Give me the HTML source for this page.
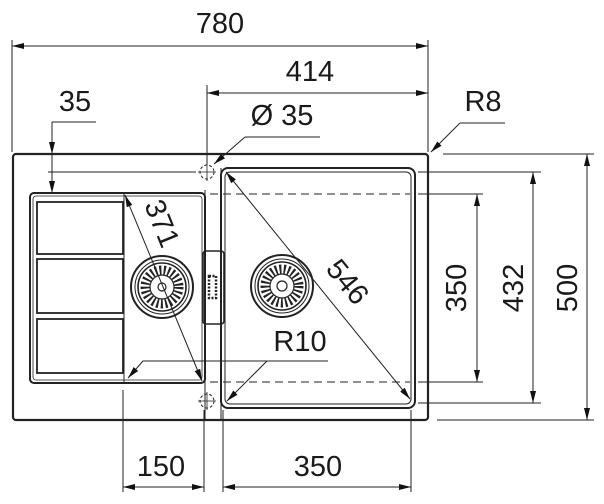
<!DOCTYPE html>
<html><head><meta charset="utf-8"><style>
html,body{margin:0;padding:0;background:#fff;width:604px;height:504px;overflow:hidden}
svg{display:block}
text{font-family:"Liberation Sans",Arial,sans-serif;font-size:29px;fill:#1a1a1a}
</style></head><body>
<svg width="604" height="504" viewBox="0 0 604 504">
<defs>
<marker id="a" viewBox="0 0 12 6" refX="12" refY="3" markerWidth="12" markerHeight="6" orient="auto-start-reverse" markerUnits="userSpaceOnUse"><path d="M0,0 L12,3 L0,6z" fill="#111"/></marker>
</defs>
<g stroke="#222" stroke-width="1" fill="none">
<line x1="12" y1="40" x2="12" y2="152"/>
<line x1="428" y1="40" x2="428" y2="152"/>
<line x1="207" y1="85" x2="207" y2="165"/>
<line x1="52" y1="122" x2="96" y2="122"/>
<line x1="245" y1="137" x2="320" y2="137"/>
<line x1="460" y1="123" x2="505" y2="123"/>
<line x1="443" y1="154" x2="594" y2="154"/>
<line x1="437" y1="420" x2="594" y2="420"/>
<line x1="418" y1="172" x2="541" y2="172"/>
<line x1="418" y1="403" x2="541" y2="403"/>
<line x1="418" y1="194" x2="483" y2="194"/>
<line x1="418" y1="382" x2="483" y2="382"/>
<line x1="123" y1="390" x2="123" y2="492"/>
<line x1="204" y1="410" x2="204" y2="492"/>
<line x1="223" y1="410" x2="223" y2="492"/>
<line x1="411" y1="410" x2="411" y2="492"/>
<line x1="48" y1="172" x2="196" y2="172"/>
<line x1="12" y1="46" x2="428" y2="46" marker-start="url(#a)" marker-end="url(#a)"/>
<line x1="207" y1="93" x2="428" y2="93" marker-start="url(#a)" marker-end="url(#a)"/>
<line x1="52" y1="122" x2="52" y2="154" marker-end="url(#a)"/>
<line x1="52" y1="154" x2="52" y2="193" marker-end="url(#a)"/>
<line x1="245" y1="137" x2="214" y2="164" marker-end="url(#a)"/>
<line x1="460" y1="123" x2="431" y2="152" marker-end="url(#a)"/>
<line x1="477" y1="194" x2="477" y2="382" marker-start="url(#a)" marker-end="url(#a)"/>
<line x1="533" y1="172" x2="533" y2="403" marker-start="url(#a)" marker-end="url(#a)"/>
<line x1="587" y1="154" x2="587" y2="420" marker-start="url(#a)" marker-end="url(#a)"/>
<line x1="123" y1="487" x2="204" y2="487" marker-start="url(#a)" marker-end="url(#a)"/>
<line x1="223" y1="487" x2="411" y2="487" marker-start="url(#a)" marker-end="url(#a)"/>
<line x1="226" y1="172" x2="410" y2="399" marker-start="url(#a)" marker-end="url(#a)"/>
<line x1="125" y1="195" x2="202" y2="381" marker-start="url(#a)" marker-end="url(#a)"/>
<polyline points="328,361 143,361 128,378" marker-end="url(#a)"/>
<line x1="267" y1="361" x2="227" y2="401" marker-end="url(#a)"/>
<line x1="210" y1="194" x2="410" y2="194" stroke-dasharray="8,5"/>
<line x1="210" y1="382" x2="410" y2="382" stroke-dasharray="8,5"/>
</g>
<g stroke="#222" fill="none">
<rect x="13" y="154" width="415" height="266" rx="3" stroke-width="2.2"/>
<rect x="30" y="193" width="175" height="190" rx="4" stroke-width="2"/>
<rect x="33" y="196" width="169" height="184" rx="3" stroke-width="0.8"/>
<line x1="124" y1="194" x2="124" y2="382" stroke-width="1"/>
<rect x="37" y="202" width="86" height="52" stroke-width="1.8"/>
<rect x="37" y="259" width="86" height="54" stroke-width="1.8"/>
<rect x="37" y="319" width="86" height="54" stroke-width="1.8"/>
<rect x="221" y="168" width="194" height="240" rx="7" stroke-width="2"/>
<rect x="225" y="172" width="186" height="232" rx="5" stroke-width="1"/>
<line x1="205" y1="190" x2="205" y2="420" stroke-width="1"/>
<line x1="221" y1="168" x2="221" y2="420" stroke-width="1"/>
<rect x="203" y="251" width="21" height="73" rx="3" stroke-width="1.6"/>
<rect x="209" y="276" width="7" height="22" stroke-width="2.5" stroke-dasharray="2,1.5"/>
<circle cx="207" cy="172" r="7" stroke-width="1" stroke-dasharray="3,2"/>
<line x1="198" y1="172" x2="216" y2="172" stroke-width="0.8"/>
<line x1="207" y1="163" x2="207" y2="181" stroke-width="0.8"/>
<circle cx="207" cy="401" r="7" stroke-width="1" stroke-dasharray="3,2"/>
<line x1="198" y1="401" x2="216" y2="401" stroke-width="0.8"/>
<line x1="207" y1="392" x2="207" y2="410" stroke-width="0.8"/>
<g transform="translate(162,287)">
<circle r="31" stroke-width="2"/><circle r="27" stroke-width="1"/><circle r="24" stroke-width="1.6"/>
<circle r="17" stroke-width="9" stroke-dasharray="2,2.3"/><circle r="12" stroke-width="1.2"/><circle r="4" stroke-width="1.2"/>
</g>
<g transform="translate(282,286)">
<circle r="31" stroke-width="2"/><circle r="27" stroke-width="1"/><circle r="24" stroke-width="1.6"/>
<circle r="17" stroke-width="9" stroke-dasharray="2,2.3"/><circle r="12" stroke-width="1.2"/><circle r="5" stroke-width="1.2"/>
</g>
</g>
<text x="220" y="33" text-anchor="middle">780</text>
<text x="310" y="81" text-anchor="middle">414</text>
<text x="75" y="111" text-anchor="middle">35</text>
<text x="282" y="125" text-anchor="middle">Ø 35</text>
<text x="483" y="111" text-anchor="middle">R8</text>
<text x="300" y="351" text-anchor="middle">R10</text>
<text x="161" y="476" text-anchor="middle">150</text>
<text x="318" y="476" text-anchor="middle">350</text>
<text transform="translate(466,288) rotate(-90)" text-anchor="middle">350</text>
<text transform="translate(523,288) rotate(-90)" text-anchor="middle">432</text>
<text transform="translate(577,288) rotate(-90)" text-anchor="middle">500</text>
<text transform="translate(340,288) rotate(51)" text-anchor="middle">546</text>
<text transform="translate(153,227) rotate(68)" text-anchor="middle">371</text>
</svg>
</body></html>
